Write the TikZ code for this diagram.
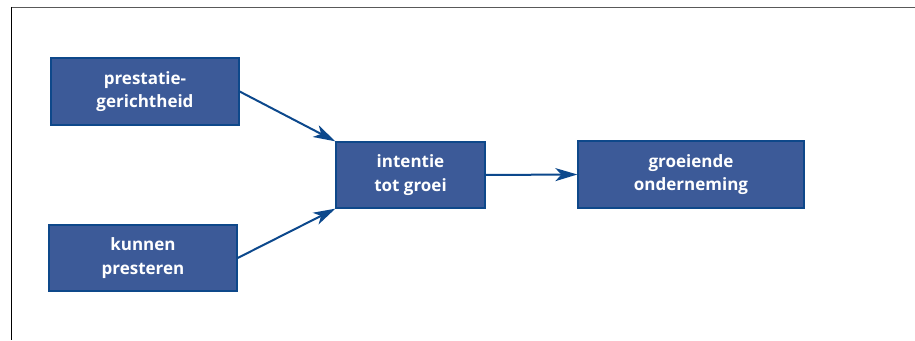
\documentclass[tikz,border=0pt]{standalone}
\usepackage{fontspec}
\setmainfont{Open Sans}
\usetikzlibrary{arrows.meta}
\definecolor{boxfill}{RGB}{60,90,152}
\definecolor{boxline}{RGB}{14,72,138}
\definecolor{arrowc}{RGB}{12,72,140}
\tikzset{
  box/.style={draw=boxline, line width=1.3pt, fill=boxfill, text=white, align=center,
    font=\bfseries\fontsize{17}{23.5}\selectfont, inner sep=0pt},
  conn/.style={draw=arrowc, line width=2pt, -{Stealth[length=22pt,width=13pt,inset=6pt]}}
}
\begin{document}
\begin{tikzpicture}[x=1pt,y=1pt]
\useasboundingbox (0,0) rectangle (915,340);
\draw[gray!70!black, line width=0.8pt] (11,332.5) -- (915,332.5);
\draw[black, line width=0.8pt] (11,333) -- (11,0);
\node[box, minimum width=188pt, minimum height=67pt] (p) at (145,248.5) {prestatie-\\gerichtheid};
\node[box, minimum width=188pt, minimum height=66pt] (k) at (143,82) {kunnen\\presteren};
\node[box, minimum width=149pt, minimum height=66pt] (i) at (410.5,165) {intentie\\tot groei};
\node[box, minimum width=226pt, minimum height=67pt] (g) at (691,165.5) {groeiende\\onderneming};
\draw[conn] (p.east) -- (i.north west);
\draw[conn] (k.east) -- (i.south west);
\draw[conn] (i.east) -- (g.west);
\end{tikzpicture}
\end{document}
